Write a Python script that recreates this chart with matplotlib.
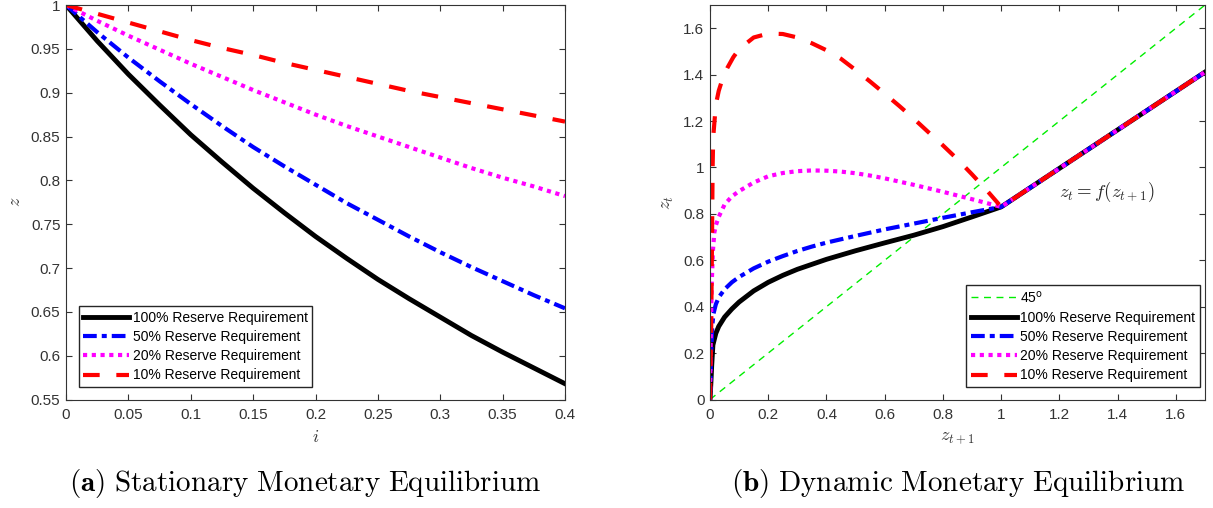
import numpy as np
import matplotlib.pyplot as plt
from matplotlib.ticker import FuncFormatter

plt.rcParams['font.family'] = ['Liberation Sans', 'DejaVu Sans']
plt.rcParams['mathtext.fontset'] = 'cm'

# ---- panel (a): stationary equilibrium, z against i ----
i_vals = [0, 0.025, 0.05, 0.075, 0.1, 0.125, 0.15, 0.175, 0.2,
          0.225, 0.25, 0.275, 0.3, 0.325, 0.35, 0.375, 0.4]
z_100 = [1.000, 0.959, 0.921, 0.886, 0.852, 0.821, 0.791, 0.763, 0.736,
         0.711, 0.687, 0.665, 0.644, 0.623, 0.604, 0.586, 0.568]
z_50 = [1.000, 0.969, 0.940, 0.913, 0.887, 0.862, 0.838, 0.816, 0.795,
        0.774, 0.755, 0.736, 0.718, 0.701, 0.685, 0.669, 0.654]
z_20 = [1.000, 0.982, 0.965, 0.949, 0.933, 0.918, 0.903, 0.889, 0.875,
        0.862, 0.850, 0.838, 0.826, 0.814, 0.803, 0.793, 0.782]
z_10 = [1.000, 0.990, 0.980, 0.970, 0.960, 0.951, 0.943, 0.934, 0.926,
        0.918, 0.910, 0.902, 0.895, 0.888, 0.881, 0.874, 0.867]

# ---- panel (b): dynamic equilibrium, z_t against z_{t+1} ----
x_100 = [0, 0.003, 0.006, 0.01, 0.02, 0.03, 0.05, 0.075, 0.1, 0.15, 0.2,
         0.25, 0.3, 0.4, 0.5, 0.6, 0.7, 0.8, 0.9, 1.0, 1.7]
y_100 = [0, 0.07, 0.15, 0.235, 0.285, 0.315, 0.355, 0.39, 0.42, 0.468, 0.505,
         0.535, 0.561, 0.604, 0.641, 0.675, 0.708, 0.745, 0.787, 0.83, 1.411]
x_50 = [0, 0.004, 0.008, 0.012, 0.02, 0.03, 0.05, 0.075, 0.1, 0.15, 0.2,
        0.25, 0.3, 0.35, 0.4, 0.5, 0.6, 0.7, 0.8, 0.9, 1.0, 1.7]
y_50 = [0, 0.2, 0.32, 0.37, 0.41, 0.44, 0.475, 0.505, 0.528, 0.565, 0.594,
        0.618, 0.64, 0.659, 0.676, 0.705, 0.733, 0.758, 0.783, 0.807, 0.83, 1.411]
x_20 = [0, 0.003, 0.006, 0.01, 0.015, 0.02, 0.03, 0.05, 0.075, 0.1, 0.15,
        0.2, 0.25, 0.3, 0.35, 0.4, 0.45, 0.5, 0.55, 0.6, 0.7, 0.8, 0.9, 1.0, 1.7]
y_20 = [0, 0.3, 0.5, 0.64, 0.72, 0.75, 0.787, 0.84, 0.875, 0.898, 0.935,
        0.962, 0.976, 0.984, 0.987, 0.986, 0.982, 0.975, 0.965, 0.953,
        0.925, 0.895, 0.863, 0.83, 1.411]
x_10 = [0, 0.004, 0.007, 0.009, 0.011, 0.02, 0.03, 0.045, 0.06, 0.08, 0.1,
        0.15, 0.2, 0.25, 0.3, 0.35, 0.4, 0.45, 0.5, 0.55, 0.6, 0.65, 0.7,
        0.75, 0.8, 0.85, 0.9, 0.95, 1.0, 1.7]
y_10 = [0, 0.3, 0.7, 1.0, 1.13, 1.27, 1.33, 1.39, 1.43, 1.475, 1.51,
        1.56, 1.577, 1.575, 1.56, 1.535, 1.505, 1.468, 1.42, 1.37, 1.318, 1.265,
        1.21, 1.152, 1.095, 1.035, 0.97, 0.902, 0.83, 1.411]
diag = [0, 1.7]

labels = ['100% Reserve Requirement', '50% Reserve Requirement',
          '20% Reserve Requirement', '10% Reserve Requirement']

W, H = 1213, 508
fig = plt.figure(figsize=(W / 100, H / 100), dpi=100)
axa = fig.add_axes([66 / W, 1 - 399.5 / H, 499 / W, 394.5 / H])
axb = fig.add_axes([710 / W, 1 - 399.5 / H, 495 / W, 394.5 / H])

grey = '0.2'
fmt = FuncFormatter(lambda v, p: f'{v:g}')


def style(ax):
    ax.tick_params(direction='in', top=True, right=True, length=4.5,
                   width=0.8, colors=grey, labelsize=11, labelcolor=grey)
    ax.tick_params(axis='x', pad=6)
    ax.tick_params(axis='y', pad=4)
    for s in ax.spines.values():
        s.set_color(grey)
        s.set_linewidth(0.8)
    ax.xaxis.set_major_formatter(fmt)
    ax.yaxis.set_major_formatter(fmt)


def draw(ax, x1, y1, x2, y2, x3, y3, x4, y4):
    ax.plot(x1, y1, color='black', lw=3.5, label=labels[0])
    ax.plot(x2, y2, color='blue', lw=3, dashes=(3.3, 1.2, 1.2, 1.2), label=labels[1])
    ax.plot(x3, y3, color='magenta', lw=3, dashes=(1, 1.1), label=labels[2])
    ax.plot(x4, y4, color='red', lw=3, dashes=(4, 4), label=labels[3])


leg_kw = dict(borderaxespad=0, fontsize=10, handlelength=3.3, labelspacing=0.38,
              handletextpad=0.25, fancybox=False, edgecolor='0.15',
              framealpha=1, borderpad=0.32)

# panel (a)
draw(axa, i_vals, z_100, i_vals, z_50, i_vals, z_20, i_vals, z_10)
axa.set_xlim(0, 0.4)
axa.set_ylim(0.55, 1)
axa.set_xticks(np.arange(0, 0.41, 0.05))
axa.set_yticks(np.arange(0.55, 1.001, 0.05))
style(axa)
axa.set_xlabel('$i$', fontsize=13, color=grey, labelpad=5)
axa.set_ylabel('$z$', fontsize=13, color=grey, labelpad=5)
axa.legend(loc='lower left', bbox_to_anchor=(0.026, 0.032), **leg_kw)

# panel (b)
axb.plot(diag, diag, color='#00ee00', lw=1, dashes=(5, 4), label='45$^{\\mathrm{o}}$')
draw(axb, x_100, y_100, x_50, y_50, x_20, y_20, x_10, y_10)
axb.set_xlim(0, 1.7)
axb.set_ylim(0, 1.7)
axb.set_xticks(np.arange(0, 1.61, 0.2))
axb.set_yticks(np.arange(0, 1.61, 0.2))
style(axb)
axb.set_xlabel('$z_{t+1}$', fontsize=13, color=grey, labelpad=5)
axb.set_ylabel('$z_t$', fontsize=13, color=grey, labelpad=5)
axb.text(1.2, 0.893, '$z_t = f(z_{t+1})$', fontsize=13.5, color='0.15',
         ha='left', va='center')
leg = axb.legend(loc='lower right', bbox_to_anchor=(0.989, 0.032), **leg_kw)
leg.get_texts()[0].set_math_fontfamily('dejavusans')

fig.text(305 / W, 1 - 483 / H,
         r'$\mathbf{(a)}\ \mathrm{Stationary\ Monetary\ Equilibrium}$',
         fontsize=21, ha='center', va='center')
fig.text(958 / W, 1 - 483 / H,
         r'$\mathbf{(b)}\ \mathrm{Dynamic\ Monetary\ Equilibrium}$',
         fontsize=21, ha='center', va='center')

fig.savefig('out.png', dpi=100)
